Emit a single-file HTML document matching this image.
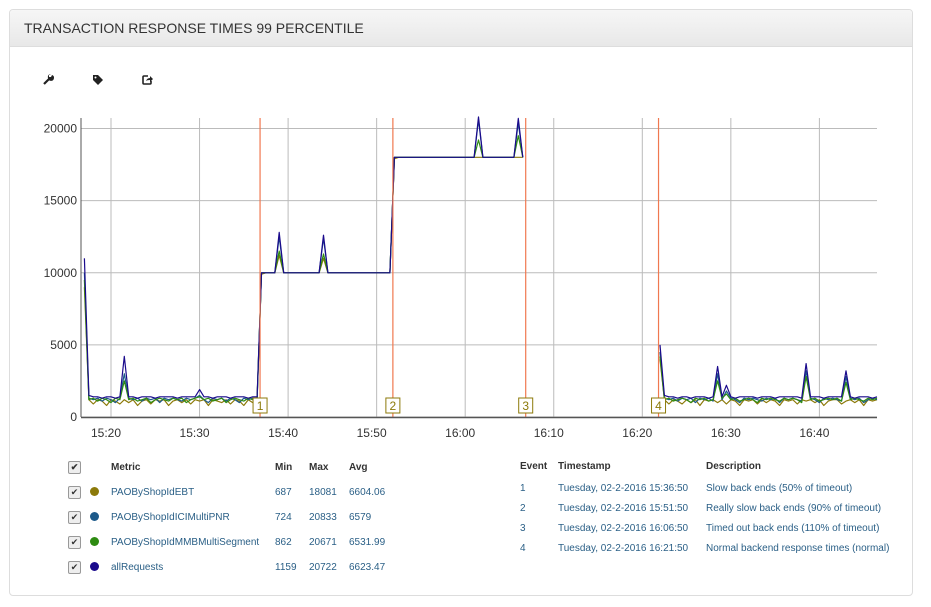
<!DOCTYPE html>
<html><head><meta charset="utf-8">
<style>
body{margin:0;background:#fff;font-family:"Liberation Sans",sans-serif;width:931px;height:607px;overflow:hidden;position:relative}
.panel{position:absolute;left:9px;top:9px;width:904px;height:587px;border:1px solid #ddd;border-radius:4px;box-sizing:border-box}
.hdr{position:absolute;left:0;top:0;right:0;height:36px;background:linear-gradient(#f6f6f6,#e8e8e8);border-bottom:1px solid #ddd;border-radius:4px 4px 0 0}
.hdr span{position:absolute;left:14px;top:10px;font-size:14px;color:#333}
table{position:absolute;border-collapse:collapse;font-size:10px;color:#2a5f86}
td,th{padding:0;white-space:nowrap;text-align:left}
#legend td,#legend th{height:25px}
#events td{height:20px}
#events th{height:23px}
th{color:#333;font-weight:bold}
.cb{width:11px;height:11px;border:1px solid #999;border-radius:2px;background:#eee;font-size:9px;line-height:11px;text-align:center;color:#333;display:inline-block}
.dot{width:9px;height:9px;border-radius:50%;display:inline-block}
</style></head><body>
<div class="panel">
<div class="hdr"><span>TRANSACTION RESPONSE TIMES 99 PERCENTILE</span></div>
</div>
<svg style="position:absolute;left:0;top:0" width="931" height="607" id="tools">
<g transform="translate(48,80)"><path d="M-4,4 L1,-1" stroke="#222" stroke-width="2.2"/><path d="M0,-2 A3,3 0 1 0 4,-5 L3,-3 L1,-3 L1,-5 L3,-6 A3,3 0 0 0 0,-2Z" fill="#222"/></g>
<g transform="translate(98,80)"><path d="M-5,-5 L0,-5 L5,0 L0,5 L-5,0Z" fill="#222"/><circle cx="-2.5" cy="-2.5" r="1" fill="#fff"/></g>
<g transform="translate(147,80)"><path d="M1,-4 L-3,-4 Q-4,-4 -4,-3 L-4,3 Q-4,4 -3,4 L3,4 Q4,4 4,3 L4,1" fill="none" stroke="#222" stroke-width="1.6"/><path d="M-1,1 Q0,-2 3,-2 L3,-4 L6,-1 L3,2 L3,0 Q0,0 -1,1Z" fill="#222"/></g>
</svg>
<svg id="chart" style="position:absolute;left:0;top:0" width="931" height="607"></svg>

<table id="legend" style="left:68px;top:455px">
<tr><th style="width:22px"><span class="cb">✔</span></th><th style="width:21px"></th><th style="width:164px">Metric</th><th style="width:34px">Min</th><th style="width:40px">Max</th><th>Avg</th></tr>
<tr><td><span class="cb">✔</span></td><td><span class="dot" style="background:#8c7a0a"></span></td><td>PAOByShopIdEBT</td><td>687</td><td>18081</td><td>6604.06</td></tr>
<tr><td><span class="cb">✔</span></td><td><span class="dot" style="background:#1d5a8a"></span></td><td>PAOByShopIdICIMultiPNR</td><td>724</td><td>20833</td><td>6579</td></tr>
<tr><td><span class="cb">✔</span></td><td><span class="dot" style="background:#2e8b12"></span></td><td>PAOByShopIdMMBMultiSegment</td><td>862</td><td>20671</td><td>6531.99</td></tr>
<tr><td><span class="cb">✔</span></td><td><span class="dot" style="background:#1a0a8c"></span></td><td>allRequests</td><td>1159</td><td>20722</td><td>6623.47</td></tr>
</table>

<table id="events" style="left:520px;top:455px;">
<tr><th style="width:38px">Event</th><th style="width:148px">Timestamp</th><th>Description</th></tr>
<tr><td>1</td><td>Tuesday, 02-2-2016 15:36:50</td><td>Slow back ends (50% of timeout)</td></tr>
<tr><td>2</td><td>Tuesday, 02-2-2016 15:51:50</td><td>Really slow back ends (90% of timeout)</td></tr>
<tr><td>3</td><td>Tuesday, 02-2-2016 16:06:50</td><td>Timed out back ends (110% of timeout)</td></tr>
<tr><td>4</td><td>Tuesday, 02-2-2016 16:21:50</td><td>Normal backend response times (normal)</td></tr>
</table>

<script>
// time in minutes after 15:00; samples every 30s starting 15:17:00
const startMinute = 17;
const stepMinutes = 0.5;
const yTicks = [0, 5000, 10000, 15000, 20000];
const xTickMinutes = [20, 30, 40, 50, 60, 70, 80, 90, 100];
const xTickLabels = ["15:20","15:30","15:40","15:50","16:00","16:10","16:20","16:30","16:40"];
const eventMinutes = [36.833, 51.833, 66.833, 81.833];
const eventLabels = ["1","2","3","4"];
// values in hundreds of ms
const allP1 = [110,15,14,14,13,14,14,13,14,42,14,14,13,14,14,14,13,14,14,14,14,13,14,14,14,14,19,14,14,13,14,14,14,13,14,14,14,13,14,14];
const allP2 = [100,100,100,100,128,100,100,100,100,100,100,100,100,100,126,100,100,100,100,100,100,100,100,100,100,100,100,100,100,100];
const allP3 = [180,180,180,180,180,180,180,180,180,180,180,180,180,180,180,180,180,180,180,208,180,180,180,180,180,180,180,180,207,180];
const allP4 = [50,15,14,14,13,14,14,13,14,14,14,13,14,35,14,22,14,13,14,14,14,14,13,14,14,14,13,14,14,14,14,14,13,37,14,14,14,13,14,14,14,14,32,14,13,14,14,14,13,14];
const ebtP1 = [90,12,9,12,11,8,12,11,9,12,10,12,8,11,12,9,12,11,12,8,11,12,10,12,9,12,11,12,8,12,11,10,12,9,12,11,8,12,10,12];
const ebtP2 = [99,100,100,100,112,100,100,100,100,100,100,100,100,100,110,100,100,100,100,100,100,100,100,100,100,100,100,100,100,100];
const ebtP3 = [179,180,180,180,180,180,180,180,180,180,180,180,180,180,180,180,180,180,180,180,180,180,180,180,180,180,180,180,180,180];
const ebtP4 = [40,12,9,12,11,9,12,10,12,8,12,11,12,10,12,9,12,11,8,12,11,12,9,12,10,12,11,8,12,11,12,9,12,11,12,10,12,8,11,12,12,9,11,12,10,12,8,12,11,12];
const iciP1 = [100,13,12,13,11,13,12,10,13,30,13,12,13,11,13,12,13,10,13,12,13,12,11,13,12,13,15,12,10,13,12,13,11,13,12,10,13,12,13,12];
const iciP2 = [100,100,100,100,125,100,100,100,100,100,100,100,100,100,124,100,100,100,100,100,100,100,100,100,100,100,100,100,100,100];
const iciP3 = [180,180,180,180,180,180,180,180,180,180,180,180,180,180,180,180,180,180,180,206,180,180,180,180,180,180,180,180,204,180];
const iciP4 = [45,13,12,13,11,13,12,13,10,13,12,13,11,30,12,18,13,12,10,13,12,13,12,11,13,12,13,10,13,12,13,12,11,32,13,12,10,13,12,13,12,11,28,13,12,13,10,12,13,12];
const mmbP1 = [95,12,13,11,13,12,10,13,12,25,12,13,11,12,13,10,12,13,12,11,13,12,13,10,12,13,14,12,13,11,12,13,10,12,13,12,11,13,12,13];
const mmbP2 = [100,100,100,100,115,100,100,100,100,100,100,100,100,100,113,100,100,100,100,100,100,100,100,100,100,100,100,100,100,100];
const mmbP3 = [180,180,180,180,180,180,180,180,180,180,180,180,180,180,180,180,180,180,180,192,180,180,180,180,180,180,180,180,195,180];
const mmbP4 = [42,12,13,11,12,13,12,10,13,12,13,11,12,25,13,16,12,13,11,12,13,12,10,13,12,13,12,11,13,12,13,12,10,28,12,13,11,12,13,12,13,11,24,12,13,12,11,13,12,13];
const gap = Array(30).fill(null);
const seriesNames = ["PAOByShopIdEBT","PAOByShopIdICIMultiPNR","PAOByShopIdMMBMultiSegment","allRequests"];
const seriesColors = ["#8c7a0a","#1d5a8a","#2e8b12","#1a0a8c"];
const seriesData = [
  [...ebtP1,...ebtP2,...ebtP3,...gap,...ebtP4],
  [...iciP1,...iciP2,...iciP3,...gap,...iciP4],
  [...mmbP1,...mmbP2,...mmbP3,...gap,...mmbP4],
  [...allP1,...allP2,...allP3,...gap,...allP4]
];
const NS="http://www.w3.org/2000/svg";
const svg=document.getElementById('chart');
const X0=81,X1=877,Y0=417;
const x=m=>111+(m-20)*8.855;
const y=v=>Y0-v*0.014425;
function mk(t,a){const e=document.createElementNS(NS,t);for(const k in a)e.setAttribute(k,a[k]);svg.appendChild(e);return e;}
yTicks.forEach(v=>{
  const g=mk('line',{x1:X0,x2:X1,y1:y(v),y2:y(v),stroke:'#bbb','stroke-width':1});
  
  
  const t=mk('text',{x:77,y:y(v)+4,'text-anchor':'end','font-size':12,fill:'#333','font-family':'Liberation Sans, sans-serif'});
  t.textContent=v;
  
  
});
xTickMinutes.forEach((m,i)=>{
  const g=mk('line',{x1:x(m),x2:x(m),y1:118,y2:Y0,stroke:'#bbb','stroke-width':1});
  
  
  const t=mk('text',{x:x(m)-5,y:437,'text-anchor':'middle','font-size':12,fill:'#333','font-family':'Liberation Sans, sans-serif'});
  t.textContent=xTickLabels[i];
  
  
});
seriesData.forEach((d,s)=>{
  let path='',pen=false;
  d.forEach((v,i)=>{
    if(v===null){pen=false;return;}
    const px=x(startMinute+i*stepMinutes).toFixed(1),py=y(v*100).toFixed(1);
    path+=(pen?'L':'M')+px+','+py;pen=true;
  });
  const p=mk('path',{d:path,fill:'none',stroke:seriesColors[s],'stroke-width':1.2,'stroke-linejoin':'round'});
  
  
});
eventMinutes.forEach((m,i)=>{
  const l=mk('line',{x1:x(m),x2:x(m),y1:118,y2:Y0,stroke:'#f07850','stroke-width':1.2});
  
  
  const r=mk('rect',{x:x(m)-7,y:398,width:14,height:15,fill:'#fff',stroke:'#8c7a0a','stroke-width':1});
  
  
  const t=mk('text',{x:x(m),y:410,'text-anchor':'middle','font-size':12,fill:'#8c7a0a','font-family':'Liberation Sans, sans-serif'});
  t.textContent=eventLabels[i];
  
  
});
const ya=mk('line',{x1:X0,x2:X0,y1:118,y2:Y0,stroke:'#555','stroke-width':1});


const xa=mk('line',{x1:X0,x2:X1,y1:Y0+0.5,y2:Y0+0.5,stroke:'#555','stroke-width':1.5});


</script>
</body></html>
